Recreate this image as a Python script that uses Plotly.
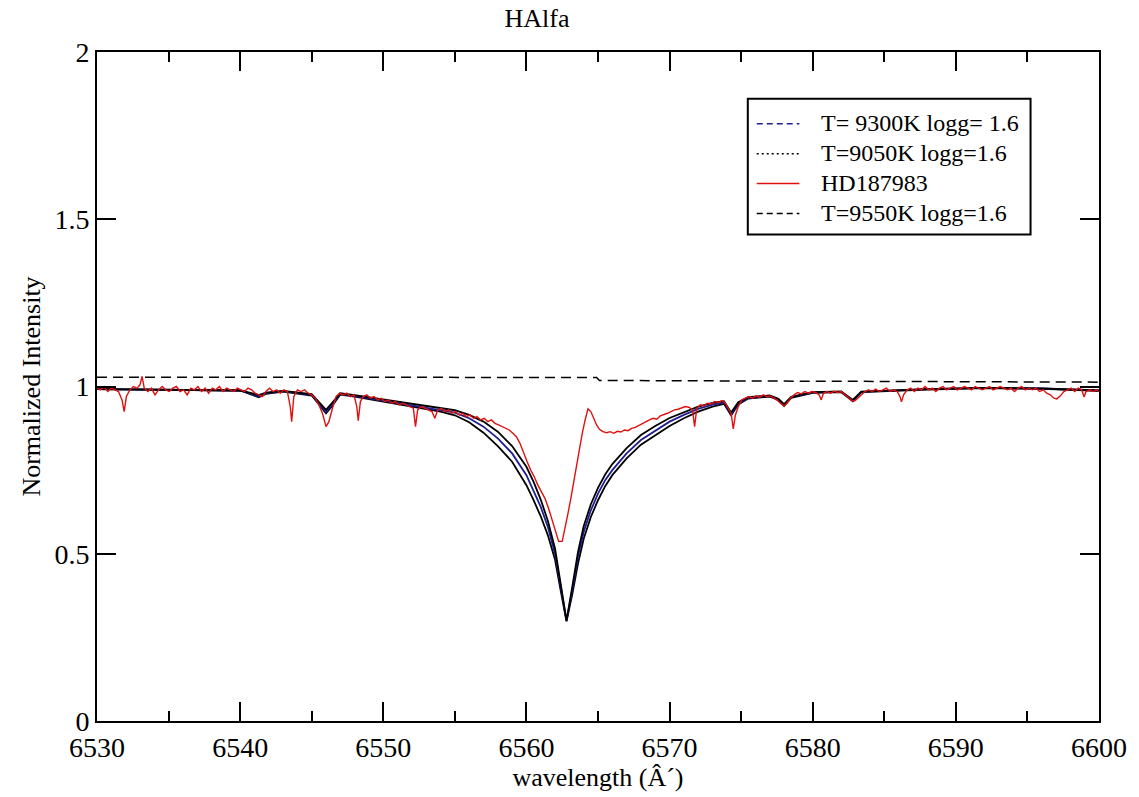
import plotly.graph_objects as go

# ---------------- data ----------------
# model wavelength grid (Angstrom)
model_wl = [6530, 6532, 6534, 6536, 6538, 6540, 6540.8, 6541.3, 6541.8, 6543, 6545,
            6545.6, 6546.0, 6546.4, 6547, 6548, 6550, 6552, 6554, 6555, 6556, 6557,
            6558, 6559, 6560, 6560.5, 6561, 6561.5, 6562, 6562.4, 6562.8, 6563.2,
            6563.6, 6564, 6564.5, 6565, 6565.5, 6566, 6567, 6568, 6569, 6570, 6571,
            6572, 6573, 6573.8, 6574.3, 6574.8, 6575.5, 6577, 6577.6, 6578, 6578.5,
            6580, 6582, 6582.8, 6583.4, 6585, 6588, 6592, 6596, 6600]

# T=9300K logg=1.6 (middle profile, blue)
model_9300 = [0.992, 0.991, 0.990, 0.990, 0.990, 0.988, 0.978, 0.970, 0.980, 0.986, 0.975,
              0.945, 0.924, 0.945, 0.978, 0.972, 0.958, 0.944, 0.931, 0.922, 0.905, 0.880,
              0.845, 0.800, 0.735, 0.690, 0.640, 0.580, 0.500, 0.400, 0.300, 0.390,
              0.490, 0.565, 0.630, 0.680, 0.720, 0.750, 0.800, 0.840, 0.868, 0.895, 0.915,
              0.933, 0.946, 0.952, 0.918, 0.950, 0.966, 0.972, 0.962, 0.945, 0.968,
              0.982, 0.984, 0.958, 0.984, 0.987, 0.992, 0.996, 0.994, 0.988]

# T=9050K logg=1.6 (narrowest profile, black)
model_9050 = [0.992, 0.991, 0.990, 0.990, 0.990, 0.988, 0.980, 0.974, 0.982, 0.987, 0.977,
              0.950, 0.930, 0.950, 0.980, 0.974, 0.961, 0.948, 0.936, 0.929, 0.915, 0.895,
              0.865, 0.822, 0.760, 0.715, 0.662, 0.598, 0.515, 0.412, 0.300, 0.400,
              0.505, 0.582, 0.648, 0.697, 0.737, 0.768, 0.816, 0.855, 0.882, 0.906, 0.924,
              0.940, 0.951, 0.956, 0.922, 0.953, 0.968, 0.973, 0.963, 0.947, 0.969,
              0.983, 0.985, 0.960, 0.985, 0.988, 0.992, 0.996, 0.994, 0.988]

# T=9550K logg=1.6 (widest profile, black)
model_9550 = [0.992, 0.991, 0.990, 0.990, 0.990, 0.988, 0.976, 0.968, 0.978, 0.985, 0.973,
              0.940, 0.920, 0.940, 0.976, 0.970, 0.955, 0.940, 0.925, 0.914, 0.893, 0.862,
              0.822, 0.775, 0.705, 0.660, 0.612, 0.555, 0.482, 0.388, 0.298, 0.378,
              0.470, 0.545, 0.610, 0.660, 0.702, 0.735, 0.785, 0.826, 0.855, 0.882, 0.905,
              0.925, 0.940, 0.948, 0.914, 0.946, 0.964, 0.970, 0.960, 0.942, 0.966,
              0.981, 0.983, 0.956, 0.983, 0.986, 0.991, 0.995, 0.993, 0.987]

# flat dashed continuum segment of the T=9550K model
cont_wl = [6530, 6564.9, 6565.1, 6600]
cont_val = [1.028, 1.027, 1.018, 1.013]

# observed spectrum HD187983
obs_wl = [
    6530.0, 6530.25, 6530.5, 6530.75, 6531.0, 6531.25, 6531.5, 6531.75, 6531.9, 6532.05,
    6532.3, 6532.55, 6532.8, 6533.0, 6533.15, 6533.3, 6533.55, 6533.8, 6534.05, 6534.3,
    6534.55, 6534.8, 6535.05, 6535.3, 6535.55, 6535.8, 6536.05, 6536.3, 6536.55, 6536.8,
    6537.05, 6537.3, 6537.55, 6537.8, 6538.05, 6538.3, 6538.55, 6538.8, 6539.05, 6539.3,
    6539.55, 6539.8, 6540.05, 6540.3, 6540.55, 6540.8, 6541.05, 6541.3, 6541.55, 6541.8,
    6542.05, 6542.3, 6542.55, 6542.8, 6543.05, 6543.3, 6543.5, 6543.6, 6543.75, 6544.0,
    6544.25, 6544.5, 6544.75, 6545.0, 6545.25, 6545.5, 6545.75, 6546.0, 6546.2, 6546.45,
    6546.7, 6546.95, 6547.2, 6547.45, 6547.7, 6547.95, 6548.15, 6548.25, 6548.4, 6548.6,
    6548.85, 6549.1, 6549.35, 6549.6, 6549.85, 6550.1, 6550.35, 6550.6, 6550.85, 6551.1,
    6551.35, 6551.6, 6551.85, 6552.1, 6552.25, 6552.4, 6552.65, 6552.9, 6553.15, 6553.4,
    6553.6, 6553.8, 6554.05, 6554.3, 6554.55, 6554.8, 6555.05, 6555.3, 6555.55, 6555.8,
    6556.05, 6556.3, 6556.55, 6556.8, 6557.05, 6557.3, 6557.55, 6557.8, 6558.05, 6558.3,
    6558.55, 6558.8, 6559.05, 6559.3, 6559.55, 6559.8, 6560.05, 6560.3, 6560.55, 6560.8,
    6561.05, 6561.3, 6561.55, 6561.8, 6562.05, 6562.25, 6562.5, 6562.7, 6562.9, 6563.1,
    6563.3, 6563.5, 6563.7, 6563.9, 6564.1, 6564.3, 6564.5, 6564.7, 6564.9, 6565.1,
    6565.35, 6565.6, 6565.85, 6566.1, 6566.35, 6566.6, 6566.85, 6567.1, 6567.35, 6567.6,
    6567.85, 6568.1, 6568.35, 6568.6, 6568.85, 6569.1, 6569.35, 6569.6, 6569.85, 6570.1,
    6570.35, 6570.6, 6570.85, 6571.1, 6571.35, 6571.6, 6571.75, 6571.9, 6572.15, 6572.4,
    6572.65, 6572.9, 6573.15, 6573.4, 6573.65, 6573.9, 6574.1, 6574.3, 6574.45, 6574.6,
    6574.8, 6575.05, 6575.3, 6575.55, 6575.8, 6576.05, 6576.3, 6576.55, 6576.8, 6577.05,
    6577.3, 6577.55, 6577.8, 6578.0, 6578.2, 6578.45, 6578.7, 6578.95, 6579.2, 6579.45,
    6579.7, 6579.95, 6580.2, 6580.45, 6580.6, 6580.75, 6581.0, 6581.25, 6581.5, 6581.75,
    6582.0, 6582.25, 6582.5, 6582.75, 6582.95, 6583.15, 6583.4, 6583.65, 6583.9, 6584.15,
    6584.4, 6584.65, 6584.9, 6585.15, 6585.4, 6585.65, 6585.9, 6586.1, 6586.2, 6586.35,
    6586.6, 6586.85, 6587.1, 6587.35, 6587.6, 6587.85, 6588.1, 6588.35, 6588.6, 6588.85,
    6589.1, 6589.35, 6589.6, 6589.85, 6590.1, 6590.35, 6590.6, 6590.85, 6591.1, 6591.35,
    6591.6, 6591.85, 6592.1, 6592.35, 6592.6, 6592.85, 6593.1, 6593.35, 6593.6, 6593.85,
    6594.1, 6594.35, 6594.6, 6594.85, 6595.1, 6595.35, 6595.6, 6595.85, 6596.1, 6596.35,
    6596.6, 6596.85, 6597.05, 6597.3, 6597.55, 6597.8, 6598.05, 6598.3, 6598.55, 6598.8,
    6598.95, 6599.1, 6599.35, 6599.6, 6599.8, 6600.0,
]
obs_val = [
    0.995, 0.990, 1.000, 0.985, 0.995, 0.990, 0.985, 0.960, 0.925, 0.970,
    0.990, 1.000, 0.995, 1.005, 1.030, 0.995, 0.985, 0.995, 0.975, 0.990,
    1.000, 0.990, 0.985, 0.995, 1.000, 0.985, 0.990, 0.975, 0.995, 0.990,
    1.000, 0.985, 0.995, 0.980, 0.995, 0.990, 1.000, 0.985, 0.995, 0.990,
    0.985, 0.995, 0.990, 0.985, 0.995, 0.990, 0.980, 0.975, 0.970, 0.985,
    0.995, 0.985, 0.990, 0.980, 0.990, 0.985, 0.940, 0.895, 0.970, 0.990,
    0.985, 0.990, 0.980, 0.975, 0.965, 0.945, 0.920, 0.880, 0.895, 0.935,
    0.970, 0.980, 0.975, 0.980, 0.970, 0.975, 0.940, 0.898, 0.955, 0.970,
    0.975, 0.965, 0.970, 0.960, 0.965, 0.955, 0.960, 0.950, 0.955, 0.945,
    0.950, 0.945, 0.940, 0.935, 0.880, 0.930, 0.940, 0.935, 0.930, 0.925,
    0.905, 0.930, 0.935, 0.925, 0.930, 0.920, 0.925, 0.915, 0.920, 0.910,
    0.915, 0.905, 0.910, 0.900, 0.905, 0.895, 0.900, 0.890, 0.885, 0.880,
    0.875, 0.870, 0.860, 0.850, 0.830, 0.800, 0.775, 0.750, 0.730, 0.705,
    0.685, 0.665, 0.635, 0.600, 0.565, 0.537, 0.537, 0.575, 0.620, 0.665,
    0.715, 0.763, 0.810, 0.860, 0.900, 0.933, 0.925, 0.905, 0.885, 0.872,
    0.865, 0.862, 0.865, 0.860, 0.866, 0.864, 0.870, 0.868, 0.875, 0.878,
    0.884, 0.888, 0.895, 0.900, 0.905, 0.902, 0.912, 0.915, 0.920, 0.925,
    0.930, 0.932, 0.936, 0.940, 0.938, 0.930, 0.880, 0.935, 0.945, 0.942,
    0.950, 0.948, 0.955, 0.952, 0.958, 0.950, 0.935, 0.920, 0.873, 0.915,
    0.940, 0.960, 0.965, 0.970, 0.965, 0.972, 0.968, 0.975, 0.970, 0.972,
    0.965, 0.958, 0.948, 0.942, 0.950, 0.965, 0.975, 0.982, 0.978, 0.985,
    0.980, 0.985, 0.982, 0.975, 0.960, 0.980, 0.985, 0.980, 0.986, 0.982,
    0.985, 0.975, 0.965, 0.958, 0.957, 0.965, 0.978, 0.985, 0.990, 0.985,
    0.992, 0.985, 0.990, 0.995, 0.985, 0.990, 0.985, 0.970, 0.954, 0.975,
    0.990, 0.995, 0.985, 0.995, 0.990, 1.000, 0.990, 0.995, 0.985, 0.995,
    1.000, 0.990, 0.995, 1.000, 0.990, 0.995, 1.000, 0.995, 0.990, 1.000,
    0.995, 0.990, 0.995, 1.000, 0.990, 0.995, 1.000, 0.995, 0.990, 0.995,
    0.985, 0.995, 1.000, 0.990, 0.995, 0.990, 0.995, 0.985, 0.990, 0.980,
    0.975, 0.965, 0.963, 0.972, 0.985, 0.990, 0.995, 0.985, 0.995, 0.990,
    0.969, 0.985, 0.990, 0.985, 0.990, 0.985,
]

x_ticks = [6530, 6540, 6550, 6560, 6570, 6580, 6590, 6600]
y_ticks = [0, 0.5, 1, 1.5, 2]
y_tick_labels = ["0", "0.5", "1", "1.5", "2"]

legend_names = ["T= 9300K logg= 1.6", "T=9050K logg=1.6", "HD187983", "T=9550K logg=1.6"]

# ---------------- figure ----------------
SERIF = "Liberation Serif, Times New Roman, serif"
BLUE = "#1f1f8f"
RED = "#e01010"

legend_colors = [BLUE, "black", RED, "black"]
legend_dashes = ["6px,4px", "2px,3px", "solid", "6px,4px"]

fig = go.Figure()

fig.add_trace(go.Scatter(x=model_wl, y=model_9550, mode="lines", name=legend_names[3],
                         line=dict(color="black", width=1.8)))
fig.add_trace(go.Scatter(x=model_wl, y=model_9300, mode="lines", name=legend_names[0],
                         line=dict(color=BLUE, width=1.8)))
fig.add_trace(go.Scatter(x=model_wl, y=model_9050, mode="lines", name=legend_names[1],
                         line=dict(color="black", width=1.8)))
fig.add_trace(go.Scatter(x=cont_wl, y=cont_val, mode="lines", name=legend_names[3],
                         line=dict(color="black", width=1.5, dash="10px,6px")))
fig.add_trace(go.Scatter(x=obs_wl, y=obs_val, mode="lines", name=legend_names[2],
                         line=dict(color=RED, width=1.4)))

# legend box drawn in plot-paper coordinates (Grace-style legend)
PX_L, PX_R, PX_T, PX_B = 97, 1107, 52, 723


def px_x(px):
    return (px - PX_L) / (PX_R - PX_L)


def px_y(py):
    return (PX_B - py) / (PX_B - PX_T)


shapes = [dict(type="rect", xref="paper", yref="paper",
               x0=px_x(753), x1=px_x(1038), y0=px_y(235), y1=px_y(99),
               line=dict(color="black", width=2), fillcolor="white", layer="above")]
annotations = []
row_y = [123, 153, 183, 213]
for name, col, dash, ry in zip(legend_names, legend_colors, legend_dashes, row_y):
    shapes.append(dict(type="line", xref="paper", yref="paper",
                       x0=px_x(762), x1=px_x(805), y0=px_y(ry + 1), y1=px_y(ry + 1),
                       line=dict(color=col, width=1.5, dash=dash), layer="above"))
    annotations.append(dict(text=name, xref="paper", yref="paper", x=px_x(825),
                            y=px_y(ry), xanchor="left", yanchor="middle", showarrow=False,
                            font=dict(family=SERIF, size=24, color="black")))

fig.update_layout(
    width=1139, height=797,
    margin=dict(l=97, r=32, t=52, b=74),
    paper_bgcolor="white", plot_bgcolor="white",
    font=dict(family=SERIF, color="black", size=26),
    title=dict(text="HAlfa", x=537 / 1139, xanchor="center", xref="container",
               y=1 - 18 / 797, yanchor="middle", yref="container",
               font=dict(family=SERIF, size=26, color="black")),
    showlegend=False,
    shapes=shapes,
    annotations=annotations,
)

fig.update_xaxes(
    range=[6530, 6600], tickvals=x_ticks,
    ticks="inside", ticklen=19, tickwidth=1.5, tickcolor="black",
    minor=dict(dtick=5, tick0=6530, ticks="inside", ticklen=10, tickwidth=1.5,
               tickcolor="black", showgrid=False),
    showline=True, linecolor="black", linewidth=2, mirror="ticks",
    showgrid=False, zeroline=False,
    tickfont=dict(family=SERIF, size=28),
    title=dict(text="wavelength (Â´)", font=dict(family=SERIF, size=26), standoff=4),
)
fig.update_yaxes(
    range=[0, 2], tickvals=y_ticks, ticktext=y_tick_labels,
    ticks="inside", ticklen=19, tickwidth=1.5, tickcolor="black",
    showline=True, linecolor="black", linewidth=2, mirror="ticks",
    showgrid=False, zeroline=False,
    tickfont=dict(family=SERIF, size=28),
    title=dict(text="Normalized Intensity", font=dict(family=SERIF, size=26), standoff=6),
)

fig.write_html("out.html")
